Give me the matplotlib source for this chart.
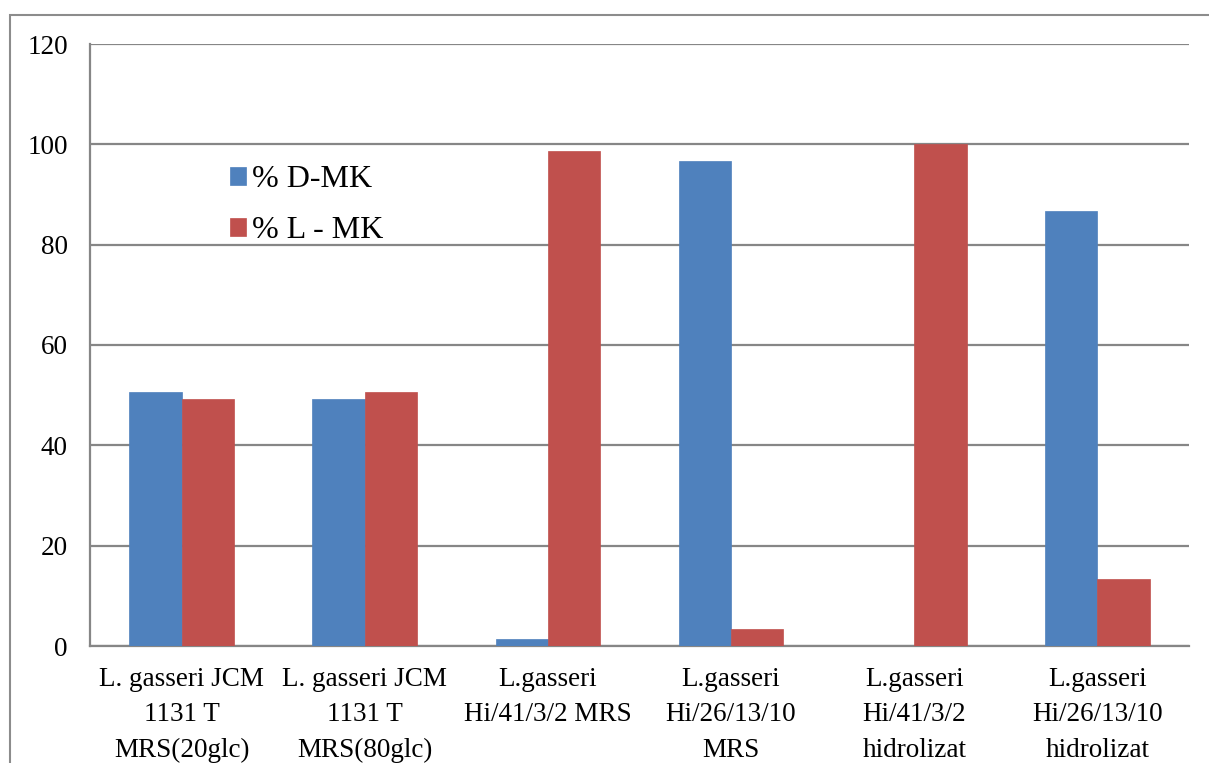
import matplotlib
matplotlib.use('Agg')
import matplotlib.pyplot as plt
from matplotlib.patches import Rectangle
import numpy as np

categories = [
    "L. gasseri JCM\n1131 T\nMRS(20glc)",
    "L. gasseri JCM\n1131 T\nMRS(80glc)",
    "L.gasseri\nHi/41/3/2 MRS",
    "L.gasseri\nHi/26/13/10\nMRS",
    "L.gasseri\nHi/41/3/2\nhidrolizat",
    "L.gasseri\nHi/26/13/10\nhidrolizat",
]
d_mk = [50.6, 49.3, 1.4, 96.7, 0.0, 86.7]
l_mk = [49.3, 50.6, 98.6, 3.3, 100.0, 13.3]

plt.rcParams['font.family'] = ['Liberation Serif', 'DejaVu Serif']

W, H = 1209, 763
fig = plt.figure(figsize=(W / 100, H / 100), dpi=100)
# plot area in pixels: x 90..1189, y 44..646
ax = fig.add_axes([90 / W, 1 - 646 / H, (1189 - 90) / W, (646 - 44) / H])

# outer chart border
fig.patches.append(Rectangle((10 / W, -0.01), 1.02 - 10 / W, 1 - 15 / H + 0.01,
                             transform=fig.transFigure, fill=False,
                             edgecolor='#8c8c8c', lw=1.5))

x = np.arange(len(categories))
bw = 0.2857
ax.bar(x - bw / 2, d_mk, bw, color='#4f81bd', edgecolor='#4f81bd', lw=0.5,
       label='% D-MK', zorder=3)
ax.bar(x + bw / 2, l_mk, bw, color='#c0504d', edgecolor='#c0504d', lw=0.5,
       label='% L - MK', zorder=3)

ax.set_xlim(-0.5, len(categories) - 0.5)
ax.set_ylim(0, 120)
ax.set_yticks(range(0, 121, 20))
ax.yaxis.grid(True, color='#868686', lw=1.6, zorder=0)
ax.set_axisbelow(True)
for s in ('top', 'right'):
    ax.spines[s].set_visible(False)
ax.spines['left'].set_color('#868686')
ax.spines['left'].set_linewidth(1.6)
ax.spines['bottom'].set_color('#868686')
ax.spines['bottom'].set_linewidth(1.6)
ax.tick_params(axis='both', length=0, labelsize=19.5, colors='black')
ax.tick_params(axis='y', pad=16)
ax.tick_params(axis='x', pad=15)
ax.set_xticks(x)
ax.set_xticklabels(categories, linespacing=1.55)

ax.legend(loc='upper left', bbox_to_anchor=(214 / W, 1 - 149 / H),
          bbox_transform=fig.transFigure, frameon=False, fontsize=23,
          handlelength=0.5, handleheight=0.5, handletextpad=0.2,
          labelspacing=0.7, borderpad=0)

fig.savefig('out.png', dpi=100)
